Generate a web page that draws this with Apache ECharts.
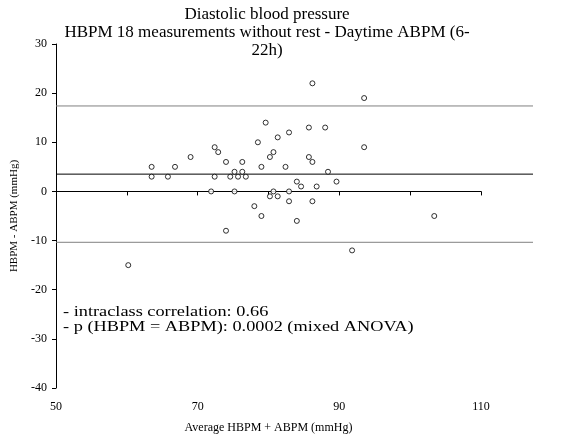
<!DOCTYPE html>
<html>
<head>
<meta charset="utf-8">
<script src="https://cdn.jsdelivr.net/npm/echarts@6/dist/echarts.min.js"></script>
<style>
html,body{margin:0;padding:0;background:#fff;}
#chart{width:579px;height:439px;}
</style>
</head>
<body>
<div id="chart"></div>
<script>
// Average of HBPM and ABPM (mmHg)
const avgBP = [63.5,63.5,65.8,66.8,69,72.4,72.9,71.9,72.4,74,74,74.6,75.2,75.2,75.7,76.3,76.3,76.8,78,78.5,79,79,79.6,80.2,80.2,80.7,80.7,81.3,81.3,82.4,82.9,82.9,82.9,84,84.6,84,85.7,85.7,86.2,93.5,88,93.5,86.2,88.4,89.6,86.8,86.2,103.4,91.8,60.2];
// Difference HBPM - ABPM (mmHg)
const diffBP = [5,3,3,5,7,9,8,0,3,6,-8,3,4,0,3,6,4,3,-3,10,5,-5,14,7,-1,8,0,11,-1,5,12,0,-2,2,1,-6,13,7,22,19,13,9,6,4,2,1,-2,-5,-12,-15];
const refNames = ['+2 DS','mean','-2 DS'];
const refValues = [17.5, 3.75, -10];
const refColors = ['#808080','#000000','#808080'];
const xRange = [50, 110];
const yRange = [-40, 30];
const titleLines = ['Diastolic blood pressure','HBPM 18 measurements without rest - Daytime ABPM (6-','22h)'];
const notes = ['- intraclass correlation: 0.66','- p (HBPM = ABPM): 0.0002 (mixed ANOVA)'];

const FONT = "'Liberation Serif','Times New Roman',serif";
const chart = echarts.init(document.getElementById('chart'));

const GL = 56, GT = 44, GB = 48, GR = 98;
// reference lines extend past the axis end
const extRight = 46;
const pxPerUnit = (579 - GL - GR) / (xRange[1] - xRange[0]);
const extMax = xRange[0] + (579 - GL - extRight) / pxPerUnit;

const points = avgBP.map((v, i) => [v, diffBP[i]]);

const refSeries = refValues.map((v, i) => ({
  type: 'line',
  xAxisIndex: 1, yAxisIndex: 1,
  data: [[xRange[0], v], {value: [extMax, v], label: {show: true}}],
  symbol: 'none',
  silent: true,
  lineStyle: {color: refColors[i], width: 1},
  label: {show: false, position: 'right', formatter: refNames[i], distance: 7, offset: [0, -16],
          color: '#000', fontFamily: FONT, fontSize: 11},
  animation: false
}));

const titleGraphics = titleLines.map((t, i) => ({
  type: 'text', x: 267, y: 15 + i * 18,
  style: {text: t, fontFamily: FONT, fontSize: 17, fill: '#000',
          textAlign: 'center', textVerticalAlign: 'middle'}
}));
const noteGraphics = notes.map((t, i) => ({
  type: 'text', x: 63, y: 312.5 + i * 14.5, scaleX: 1.22,
  style: {text: t, fontFamily: FONT, fontSize: 15, fill: '#000',
          textAlign: 'left', textVerticalAlign: 'middle'}
}));

chart.setOption({
  animation: false,
  grid: [
    {left: GL, right: GR, top: GT, bottom: GB},
    {left: GL, right: extRight, top: GT, bottom: GB}
  ],
  xAxis: [
    {type: 'value', gridIndex: 0, min: xRange[0], max: xRange[1], interval: 10,
     name: 'Average HBPM + ABPM (mmHg)', nameLocation: 'middle', nameGap: 34,
     nameTextStyle: {fontFamily: FONT, fontSize: 12, color: '#000'},
     axisLine: {lineStyle: {color: '#000', width: 1}},
     axisTick: {show: true, length: 4, lineStyle: {color: '#000'}},
     axisLabel: {fontFamily: FONT, fontSize: 12, color: '#000', margin: 13,
                 formatter: v => ((v - xRange[0]) % 20 === 0 ? String(v) : '')},
     splitLine: {show: false}},
    {type: 'value', gridIndex: 1, min: xRange[0], max: extMax, show: false}
  ],
  yAxis: [
    {type: 'value', gridIndex: 0, min: yRange[0], max: yRange[1], interval: 10,
     name: 'HBPM - ABPM (mmHg)', nameLocation: 'middle', nameGap: 36,
     nameTextStyle: {fontFamily: FONT, fontSize: 11, color: '#000'},
     axisLine: {show: true, lineStyle: {color: '#000', width: 1}},
     axisTick: {show: true, length: 4, lineStyle: {color: '#000'}},
     axisLabel: {fontFamily: FONT, fontSize: 12, color: '#000', margin: 9},
     splitLine: {show: false}},
    {type: 'value', gridIndex: 1, min: yRange[0], max: yRange[1], show: false}
  ],
  graphic: [...titleGraphics, ...noteGraphics],
  series: [
    ...refSeries,
    {type: 'scatter', xAxisIndex: 0, yAxisIndex: 0, data: points,
     symbol: 'circle', symbolSize: 5,
     itemStyle: {color: '#fff', borderColor: '#000', borderWidth: 1},
     emphasis: {disabled: true}, z: 5}
  ]
});
</script>
</body>
</html>
